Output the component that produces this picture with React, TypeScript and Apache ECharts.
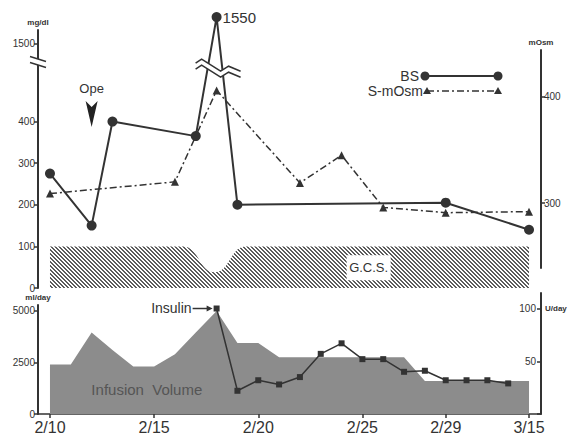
import React, { useEffect, useRef } from 'react';
import * as echarts from 'echarts';

// ---------- data ----------
const tickDays = [0, 5, 10, 15, 19, 23];
const tickDates = ['2/10', '2/15', '2/20', '2/25', '2/29', '3/15'];

const bsDays = [0, 2, 3, 7, 8, 9, 19, 23];
const bsValues = [275, 150, 400, 365, 1550, 200, 205, 140];

const osmDays = [0, 6, 8, 12, 14, 16, 19, 23];
const osmValues = [309, 320, 406, 319, 345, 296, 291, 292];

const gcsDays = [0, 6.4, 7.9, 9.4, 23];
const gcsLevels = [100, 100, 38, 100, 100];

const infusionDays = [0, 1, 2, 3, 4, 5, 6, 7, 8, 9, 10, 11, 12, 13, 14, 15, 16, 17, 18, 19, 20, 21, 22, 23];
const infusionValues = [2400, 2400, 3950, 3100, 2300, 2300, 2900, 3950, 5000, 3450, 3450, 2750, 2750, 2750, 2750, 2750, 2750, 2750, 1600, 1600, 1600, 1600, 1600, 1600];

const insulinDays = [8, 9, 10, 11, 12, 13, 14, 15, 16, 17, 18, 19, 20, 21, 22];
const insulinValues = [100, 22, 32, 28, 35, 57, 67, 52, 52, 40, 41, 32, 32, 32, 29];

const bsTicks = [0, 100, 200, 300, 400, 1500];
const osmTicks = [300, 400];
const infusionTicks = [0, 2500, 5000];
const insulinTicks = [50, 100];

const opeDay = 2;

// ---------- helpers ----------
const FONT = "'Liberation Sans', Arial, Helvetica, sans-serif";
const INK = '#333';
const X_MIN = -0.575;
const X_MAX = 23.575;

// broken mg/dl axis: linear up to 500, then 1500 sits at 587
const toDisplay = (v: number) => (v <= 500 ? v : 587 + (v - 1500) * 1.28);
const bsTickDisplay = bsTicks.map(toDisplay);

function makeHatch() {
  const c = document.createElement('canvas');
  c.width = 4;
  c.height = 4;
  const ctx = c.getContext('2d')!;
  ctx.fillStyle = '#ffffff';
  ctx.fillRect(0, 0, 4, 4);
  ctx.fillStyle = '#5c5c5c';
  for (let x = 0; x < 4; x++) {
    for (let y = 0; y < 4; y++) {
      if ((x - y + 8) % 4 < 2) ctx.fillRect(x, y, 1, 1);
    }
  }
  return c;
}

export default function App() {
  const ref = useRef<HTMLDivElement>(null);

  useEffect(() => {
    const el = ref.current!;
    const chart = echarts.init(el, null, { renderer: 'svg' });

    const xHidden = (gridIndex: number) => ({
      type: 'value', gridIndex, min: X_MIN, max: X_MAX, show: false,
    });

    const yCommon = {
      type: 'value',
      splitLine: { show: false },
      axisLine: { show: true, onZero: false, lineStyle: { color: INK, width: 2 } },
      nameLocation: 'end',
      nameGap: 4,
      nameTextStyle: { fontSize: 8, fontWeight: 'bold', color: INK, fontFamily: FONT },
    };

    const bsData = bsDays.map((d, i) => {
      const item: any = { value: [d, toDisplay(bsValues[i])] };
      if (bsValues[i] > 1000) {
        item.label = {
          show: true, position: 'right', distance: 1,
          formatter: String(bsValues[i]),
          fontSize: 15, color: INK, fontFamily: FONT,
        };
      }
      return item;
    });

    const plain = (v: number) => String(v);

    const option: any = {
      animation: false,
      backgroundColor: '#ffffff',
      textStyle: { fontFamily: FONT },
      grid: [
        { left: 38, right: 33, top: 30, bottom: 147 },
        { left: 38, right: 33, top: 50, bottom: 167 },
        { left: 38, right: 33, top: 305, bottom: 21 },
        { left: 38, right: 33, top: 293, bottom: 21 },
      ],
      xAxis: [
        xHidden(0),
        xHidden(1),
        {
          type: 'value', gridIndex: 2, min: X_MIN, max: X_MAX,
          splitLine: { show: false },
          axisLine: { show: true, onZero: false, lineStyle: { color: INK, width: 1.5 } },
          axisTick: { show: true, customValues: tickDays, length: 4, lineStyle: { color: INK, width: 1.5 } },
          axisLabel: {
            show: true, customValues: tickDays, margin: 5,
            formatter: (v: number) => {
              const k = tickDays.findIndex((t) => Math.abs(t - v) < 0.01);
              return k >= 0 ? tickDates[k] : '';
            },
            fontSize: 16, color: INK, fontFamily: FONT,
          },
        },
        xHidden(3),
      ],
      yAxis: [
        {
          ...yCommon, gridIndex: 0, min: 0, max: 620, position: 'left', name: 'mg/dl',
          axisTick: { show: true, customValues: bsTickDisplay, length: 4, lineStyle: { color: INK, width: 1.5 } },
          axisLabel: {
            customValues: bsTickDisplay, margin: 3, fontSize: 10, color: INK, fontFamily: FONT,
            formatter: (v: number) => {
              const k = bsTickDisplay.findIndex((t) => Math.abs(t - v) < 0.5);
              return k >= 0 ? String(bsTicks[k]) : '';
            },
          },
        },
        {
          ...yCommon, gridIndex: 1, min: 239, max: 444, position: 'right', name: 'mOsm',
          axisTick: { show: true, customValues: osmTicks, length: 4, lineStyle: { color: INK, width: 1.5 } },
          axisLabel: { customValues: osmTicks, formatter: plain, margin: 3, fontSize: 10, color: INK, fontFamily: FONT },
        },
        {
          ...yCommon, gridIndex: 2, min: 0, max: 5290, position: 'left', name: 'ml/day',
          axisTick: { show: true, customValues: infusionTicks, length: 4, lineStyle: { color: INK, width: 1.5 } },
          axisLabel: { customValues: infusionTicks, formatter: plain, margin: 3, fontSize: 10, color: INK, fontFamily: FONT },
        },
        {
          ...yCommon, gridIndex: 3, min: 0, max: 114.7, position: 'right',
          axisTick: { show: true, inside: true, customValues: [0, ...insulinTicks], length: 4, lineStyle: { color: INK, width: 1.5 } },
          axisLabel: { inside: true, customValues: insulinTicks, formatter: plain, margin: 5, fontSize: 10, color: INK, fontFamily: FONT },
        },
      ],
      series: [
        {
          type: 'line', name: 'G.C.S.', xAxisIndex: 0, yAxisIndex: 0,
          data: gcsDays.map((d, i) => [d, gcsLevels[i]]),
          smooth: 0.5, smoothMonotone: 'x', symbol: 'none', silent: true,
          lineStyle: { width: 0 },
          areaStyle: { color: { image: makeHatch(), repeat: 'repeat', imageWidth: 4, imageHeight: 4 }, opacity: 1 },
          z: 1,
        },
        {
          type: 'line', name: 'S-mOsm', xAxisIndex: 1, yAxisIndex: 1,
          data: osmDays.map((d, i) => [d, osmValues[i]]),
          symbol: 'triangle', symbolSize: 8,
          itemStyle: { color: INK },
          lineStyle: { color: INK, width: 1.5, type: [7, 3, 2, 3] },
          z: 3,
        },
        {
          type: 'line', name: 'BS', xAxisIndex: 0, yAxisIndex: 0,
          data: bsData, clip: false,
          symbol: 'circle', symbolSize: 10,
          itemStyle: { color: INK },
          lineStyle: { color: INK, width: 2 },
          z: 4,
        },
        {
          type: 'line', name: 'Infusion Volume', xAxisIndex: 2, yAxisIndex: 2,
          data: infusionDays.map((d, i) => [d, infusionValues[i]]),
          symbol: 'none', silent: true,
          lineStyle: { width: 0 },
          areaStyle: { color: '#8c8c8c', opacity: 1 },
          z: 1,
        },
        {
          type: 'line', name: 'Insulin', xAxisIndex: 3, yAxisIndex: 3,
          data: insulinDays.map((d, i) => [d, insulinValues[i]]),
          symbol: 'rect', symbolSize: 6,
          itemStyle: { color: INK },
          lineStyle: { color: INK, width: 1.5 },
          z: 3,
        },
      ],
    };

    chart.setOption(option);

    const px = (grid: number, p: number[]) =>
      chart.convertToPixel({ xAxisIndex: grid, yAxisIndex: grid }, p) as number[];

    const g: any[] = [];
    const txt = (x: number, y: number, text: string, size: number, align: string, extra: any = {}) => ({
      type: 'text', x, y, z: 100,
      style: {
        text, fontSize: size, lineHeight: size, fontFamily: FONT, fill: INK,
        align, textAlign: align, verticalAlign: 'middle', textVerticalAlign: 'middle', ...extra,
      },
    });

    // left axis break marks
    const ab = px(0, [X_MIN, 543]);
    g.push({
      type: 'polygon', z: 100,
      shape: { points: [[ab[0] - 8, ab[1] - 5.5], [ab[0] + 8, ab[1] - 0.5], [ab[0] + 8, ab[1] + 5.5], [ab[0] - 8, ab[1] + 0.5]] },
      style: { fill: '#fff' },
    });
    g.push({ type: 'line', z: 101, shape: { x1: ab[0] - 8, y1: ab[1] - 5.5, x2: ab[0] + 8, y2: ab[1] - 0.5 }, style: { stroke: INK, lineWidth: 1.5 } });
    g.push({ type: 'line', z: 101, shape: { x1: ab[0] - 8, y1: ab[1] + 0.5, x2: ab[0] + 8, y2: ab[1] + 5.5 }, style: { stroke: INK, lineWidth: 1.5 } });

    // break marks across the BS spike
    const sp = px(0, [bsDays[4], 533]);
    const wave = [[-21, -3], [-15, -7], [4, 5], [12, 0], [24, 5]];
    const up = wave.map(([dx, dy]) => [sp[0] + dx, sp[1] + dy]);
    const lo = wave.map(([dx, dy]) => [sp[0] + dx, sp[1] + dy + 6]);
    g.push({ type: 'polygon', z: 100, shape: { points: [...up, ...lo.slice().reverse()] }, style: { fill: '#fff' } });
    g.push({ type: 'polyline', z: 101, shape: { points: up }, style: { stroke: INK, lineWidth: 1.5, fill: null } });
    g.push({ type: 'polyline', z: 101, shape: { points: lo }, style: { stroke: INK, lineWidth: 1.5, fill: null } });

    // Ope arrow
    const op = px(0, [opeDay, 387]);
    g.push({
      type: 'polygon', z: 100,
      shape: { points: [[op[0], op[1]], [op[0] - 6, op[1] - 26], [op[0], op[1] - 20], [op[0] + 6, op[1] - 26]] },
      style: { fill: '#222' },
    });
    g.push(txt(op[0], op[1] - 38, 'Ope', 13, 'center'));

    // G.C.S. label
    const gc = px(0, [15.3, 50]);
    g.push({ type: 'rect', z: 100, shape: { x: gc[0] - 22, y: gc[1] - 12, width: 44, height: 25 }, style: { fill: '#fff' } });
    g.push(txt(gc[0], gc[1], 'G.C.S.', 13, 'center'));

    // legend
    g.push(txt(419, 76, 'BS', 14, 'right'));
    g.push({ type: 'line', z: 100, shape: { x1: 425, y1: 76, x2: 498, y2: 76 }, style: { stroke: INK, lineWidth: 2 } });
    g.push({ type: 'circle', z: 101, shape: { cx: 425, cy: 76, r: 4.5 }, style: { fill: INK } });
    g.push({ type: 'circle', z: 101, shape: { cx: 498, cy: 76, r: 4.5 }, style: { fill: INK } });
    g.push(txt(423, 91, 'S-mOsm', 14, 'right'));
    g.push({ type: 'line', z: 100, shape: { x1: 427, y1: 91, x2: 498, y2: 91 }, style: { stroke: INK, lineWidth: 1.5, lineDash: [7, 3, 2, 3] } });
    const tri = (cx: number, cy: number) => ({
      type: 'polygon', z: 101,
      shape: { points: [[cx, cy - 4], [cx + 4, cy + 3], [cx - 4, cy + 3]] },
      style: { fill: INK },
    });
    g.push(tri(427, 91));
    g.push(tri(498, 91));

    // Insulin label + arrow
    const ins = px(3, [insulinDays[0], insulinValues[0]]);
    g.push(txt(ins[0] - 25, ins[1] - 1, 'Insulin', 14, 'right'));
    g.push({ type: 'line', z: 100, shape: { x1: ins[0] - 24, y1: ins[1], x2: ins[0] - 8, y2: ins[1] }, style: { stroke: INK, lineWidth: 1.5 } });
    g.push({
      type: 'polygon', z: 100,
      shape: { points: [[ins[0] - 4, ins[1]], [ins[0] - 10, ins[1] - 3], [ins[0] - 10, ins[1] + 3]] },
      style: { fill: INK },
    });

    // Infusion Volume label
    const iv = px(2, [4.65, 1165]);
    g.push(txt(iv[0], iv[1], 'Infusion  Volume', 15, 'center', { fill: '#555' }));

    // U/day name
    const ud = px(3, [X_MAX, 100]);
    g.push(txt(ud[0] + 4, ud[1], 'U/day', 8, 'left', { fontWeight: 'bold' }));

    chart.setOption({ graphic: { elements: g } });

    return () => chart.dispose();
  }, []);

  return (
    <div
      ref={ref}
      style={{ position: 'absolute', left: 0, top: 0, width: 574, height: 435, background: '#fff' }}
    />
  );
}
